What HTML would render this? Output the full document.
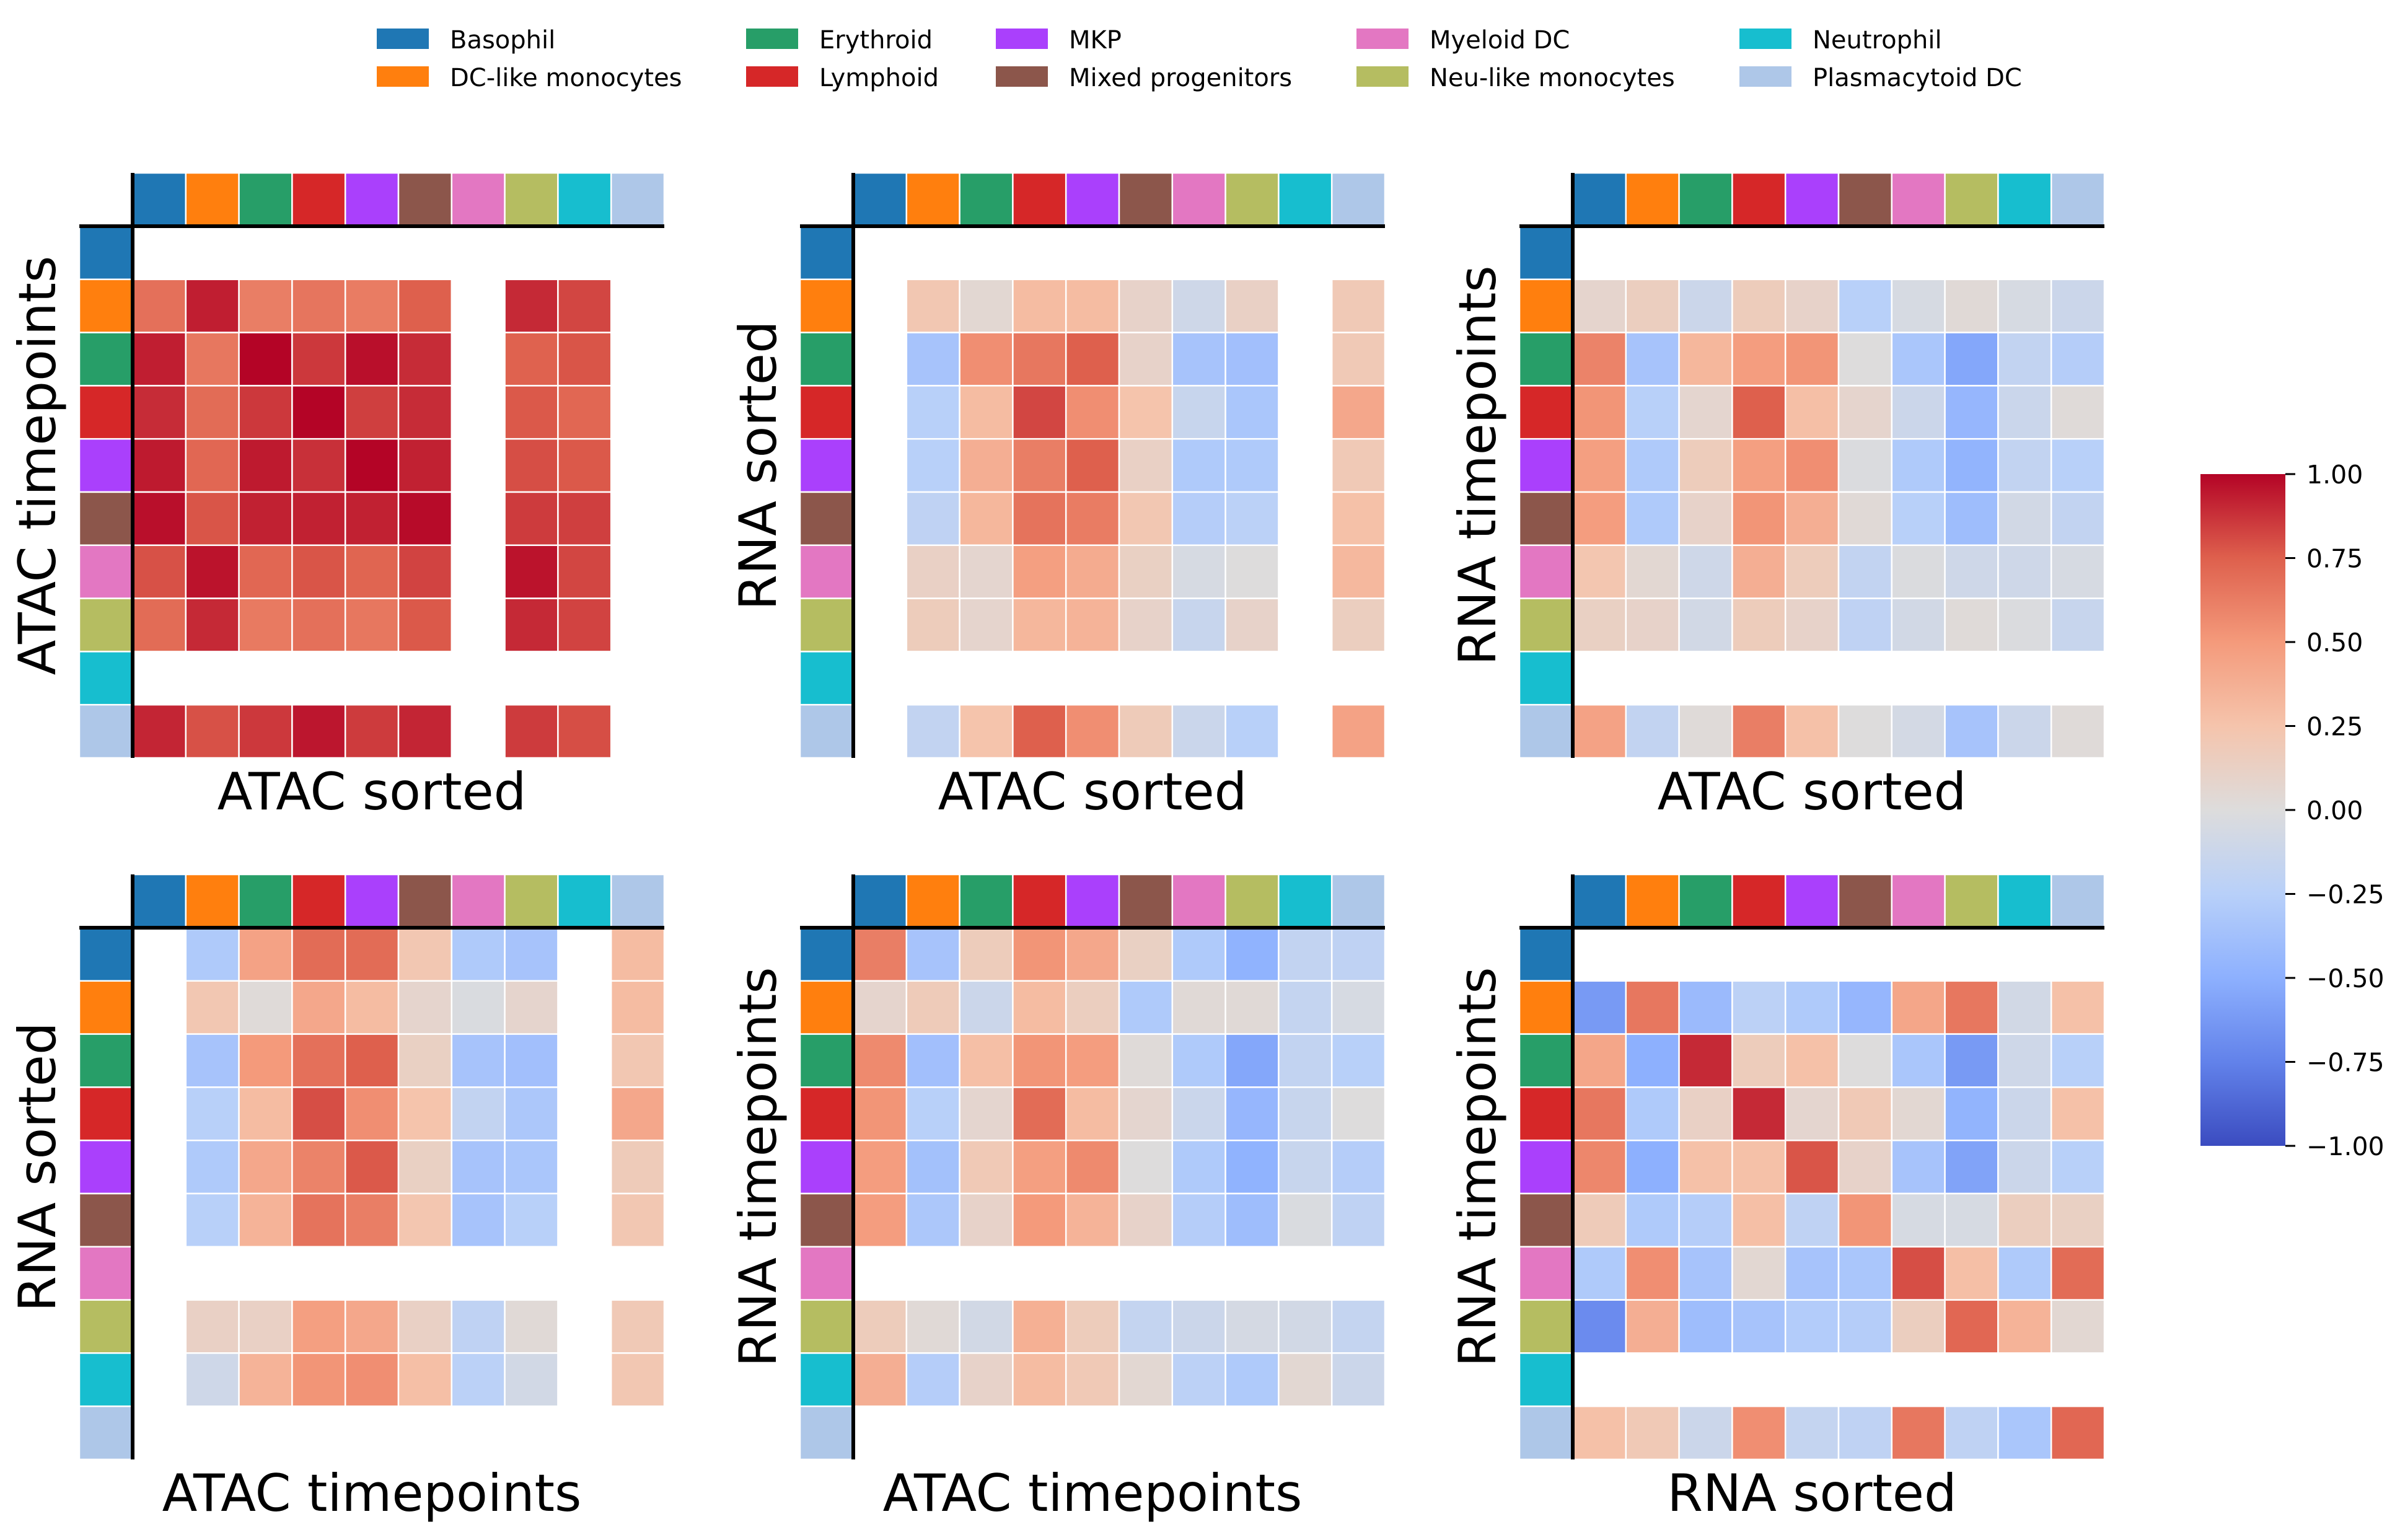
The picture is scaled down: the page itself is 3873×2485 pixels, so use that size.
<!DOCTYPE html>
<html><head><meta charset="utf-8">
<style>
html,body{margin:0;padding:0;background:#fff;}
svg{display:block;}
text{font-family:"DejaVu Sans","Liberation Sans",sans-serif;fill:#000;}
</style></head>
<body>
<svg id="fig" xmlns="http://www.w3.org/2000/svg" width="3873" height="2485" viewBox="0 0 3873 2485">
<defs>
<linearGradient id="cwgrad" x1="0" y1="1" x2="0" y2="0">
<stop offset="0" stop-color="rgb(59,76,192)"/>
<stop offset="0.125" stop-color="rgb(98,130,234)"/>
<stop offset="0.25" stop-color="rgb(141,176,254)"/>
<stop offset="0.375" stop-color="rgb(184,208,249)"/>
<stop offset="0.5" stop-color="rgb(221,220,220)"/>
<stop offset="0.625" stop-color="rgb(245,196,172)"/>
<stop offset="0.75" stop-color="rgb(244,154,123)"/>
<stop offset="0.875" stop-color="rgb(222,96,77)"/>
<stop offset="1" stop-color="rgb(180,4,38)"/>
</linearGradient>
</defs>
</svg>
<script>
const categories = ["Basophil","DC-like monocytes","Erythroid","Lymphoid","MKP","Mixed progenitors","Myeloid DC","Neu-like monocytes","Neutrophil","Plasmacytoid DC"];
const categoryColors = ["#1f77b4","#ff7f0e","#279e68","#d62728","#aa40fc","#8c564b","#e377c2","#b5bd61","#17becf","#aec7e8"];
const colorbarTicks = [1.0,0.75,0.5,0.25,0.0,-0.25,-0.5,-0.75,-1.0];
const colorbarTickLabels = ["1.00","0.75","0.50","0.25","0.00","\u22120.25","\u22120.50","\u22120.75","\u22121.00"];
const N = null;
const atacTimeVsAtacSorted = [
 [N,N,N,N,N,N,N,N,N,N],
 [0.68,0.93,0.62,0.66,0.63,0.75,N,0.9,0.82,N],
 [0.93,0.65,1.0,0.86,0.97,0.89,N,0.74,0.78,N],
 [0.89,0.7,0.86,1.0,0.84,0.89,N,0.77,0.72,N],
 [0.94,0.72,0.94,0.88,1.0,0.92,N,0.8,0.77,N],
 [0.97,0.78,0.92,0.92,0.92,0.98,N,0.85,0.84,N],
 [0.79,0.96,0.72,0.78,0.73,0.83,N,0.96,0.82,N],
 [0.7,0.9,0.64,0.68,0.65,0.77,N,0.9,0.83,N],
 [N,N,N,N,N,N,N,N,N,N],
 [0.91,0.79,0.86,0.95,0.85,0.91,N,0.85,0.8,N]
];
const rnaSortedVsAtacSorted = [
 [N,N,N,N,N,N,N,N,N,N],
 [N,0.22,0.05,0.3,0.3,0.1,-0.1,0.12,N,0.2],
 [N,-0.35,0.55,0.65,0.75,0.1,-0.35,-0.38,N,0.2],
 [N,-0.25,0.3,0.82,0.55,0.25,-0.15,-0.33,N,0.42],
 [N,-0.25,0.38,0.62,0.75,0.12,-0.3,-0.3,N,0.2],
 [N,-0.2,0.33,0.67,0.63,0.22,-0.27,-0.23,N,0.27],
 [N,0.12,0.07,0.47,0.4,0.13,-0.05,0.0,N,0.32],
 [N,0.17,0.08,0.33,0.35,0.1,-0.15,0.1,N,0.15],
 [N,N,N,N,N,N,N,N,N,N],
 [N,-0.18,0.25,0.75,0.55,0.18,-0.13,-0.25,N,0.45]
];
const rnaTimeVsAtacSorted = [
 [N,N,N,N,N,N,N,N,N,N],
 [0.08,0.15,-0.12,0.17,0.1,-0.25,-0.05,0.03,-0.05,-0.12],
 [0.6,-0.35,0.33,0.48,0.52,0.0,-0.33,-0.55,-0.18,-0.27],
 [0.52,-0.25,0.07,0.75,0.28,0.08,-0.12,-0.45,-0.13,0.02],
 [0.47,-0.3,0.17,0.47,0.55,-0.02,-0.3,-0.47,-0.18,-0.25],
 [0.48,-0.3,0.1,0.52,0.38,0.03,-0.25,-0.4,-0.08,-0.18],
 [0.23,0.05,-0.1,0.38,0.17,-0.18,-0.02,-0.1,-0.1,-0.05],
 [0.13,0.1,-0.08,0.17,0.1,-0.2,-0.08,0.02,-0.02,-0.15],
 [N,N,N,N,N,N,N,N,N,N],
 [0.45,-0.18,0.02,0.62,0.27,0.0,-0.07,-0.35,-0.12,0.02]
];
const rnaSortedVsAtacTime = [
 [N,-0.3,0.45,0.7,0.7,0.22,-0.3,-0.35,N,0.3],
 [N,0.22,0.02,0.42,0.3,0.08,-0.03,0.08,N,0.3],
 [N,-0.35,0.5,0.68,0.75,0.13,-0.35,-0.38,N,0.22],
 [N,-0.25,0.3,0.8,0.55,0.25,-0.18,-0.32,N,0.42],
 [N,-0.3,0.42,0.6,0.77,0.13,-0.35,-0.33,N,0.18],
 [N,-0.25,0.35,0.67,0.62,0.23,-0.35,-0.25,N,0.22],
 [N,N,N,N,N,N,N,N,N,N],
 [N,0.12,0.12,0.47,0.42,0.12,-0.2,0.03,N,0.2],
 [N,-0.1,0.35,0.52,0.55,0.28,-0.23,-0.08,N,0.22],
 [N,N,N,N,N,N,N,N,N,N]
];
const rnaTimeVsAtacTime = [
 [0.62,-0.35,0.17,0.52,0.42,0.13,-0.3,-0.48,-0.18,-0.2],
 [0.08,0.18,-0.12,0.3,0.15,-0.3,0.03,0.03,-0.17,-0.05],
 [0.57,-0.38,0.28,0.52,0.48,0.02,-0.3,-0.55,-0.18,-0.25],
 [0.52,-0.25,0.07,0.7,0.3,0.07,-0.13,-0.45,-0.15,0.0],
 [0.48,-0.37,0.2,0.47,0.57,0.0,-0.3,-0.48,-0.15,-0.27],
 [0.48,-0.32,0.1,0.5,0.35,0.1,-0.27,-0.4,-0.03,-0.2],
 [N,N,N,N,N,N,N,N,N,N],
 [0.17,0.03,-0.08,0.37,0.17,-0.17,-0.12,-0.06,-0.08,-0.17],
 [0.38,-0.27,0.1,0.3,0.2,0.05,-0.22,-0.3,0.05,-0.12],
 [N,N,N,N,N,N,N,N,N,N]
];
const rnaTimeVsRnaSorted = [
 [N,N,N,N,N,N,N,N,N,N],
 [-0.62,0.65,-0.42,-0.22,-0.3,-0.45,0.43,0.65,-0.08,0.27],
 [0.43,-0.5,0.9,0.17,0.27,0.0,-0.33,-0.62,-0.1,-0.25],
 [0.65,-0.3,0.12,0.9,0.07,0.2,0.05,-0.47,-0.12,0.27],
 [0.58,-0.5,0.27,0.27,0.78,0.1,-0.35,-0.57,-0.12,-0.25],
 [0.18,-0.3,-0.27,0.28,-0.2,0.52,-0.05,-0.05,0.15,0.13],
 [-0.3,0.55,-0.35,0.05,-0.35,-0.33,0.8,0.28,-0.3,0.7],
 [-0.7,0.38,-0.4,-0.35,-0.28,-0.27,0.15,0.72,0.35,0.05],
 [N,N,N,N,N,N,N,N,N,N],
 [0.27,0.2,-0.12,0.55,-0.17,-0.2,0.65,-0.2,-0.33,0.72]
];
const panelValues = [atacTimeVsAtacSorted,rnaSortedVsAtacSorted,rnaTimeVsAtacSorted,rnaSortedVsAtacTime,rnaTimeVsAtacTime,rnaTimeVsRnaSorted];
const panelYLabels = ["ATAC timepoints","RNA sorted","RNA timepoints","RNA sorted","RNA timepoints","RNA timepoints"];
const panelXLabels = ["ATAC sorted","ATAC sorted","ATAC sorted","ATAC timepoints","ATAC timepoints","RNA sorted"];

const NS = "http://www.w3.org/2000/svg";
const svg = document.getElementById("fig");
function mk(tag, attrs, parent){const e=document.createElementNS(NS,tag);for(const k in attrs)e.setAttribute(k,attrs[k]);(parent||svg).appendChild(e);return e;}

const cwStops=[[0,[59,76,192]],[0.125,[98,130,234]],[0.25,[141,176,254]],[0.375,[184,208,249]],[0.5,[221,220,220]],[0.625,[245,196,172]],[0.75,[244,154,123]],[0.875,[222,96,77]],[1,[180,4,38]]];
function coolwarm(v){
  let t=(v+1)/2; t=Math.max(0,Math.min(1,t));
  for(let i=1;i<cwStops.length;i++){
    if(t<=cwStops[i][0]){const a=cwStops[i-1],b=cwStops[i];const f=(t-a[0])/(b[0]-a[0]);
      const c=a[1].map((x,j)=>Math.round(x+(b[1][j]-x)*f));return `rgb(${c[0]},${c[1]},${c[2]})`;}
  }
  return "rgb(180,4,38)";
}

const colLeft=[214,1377,2538], rowTop=[365,1497], SIZE=858, BAR=86;
const cell=SIZE/10;
function xScale(px,j){return colLeft[px]+j*cell;}
function yScale(py,i){return rowTop[py]+i*cell;}

panelValues.forEach((vals,p)=>{
  const px=p%3, py=Math.floor(p/3);
  const g=mk("g",{});
  
  
  const L=colLeft[px], T=rowTop[py];
  categories.forEach((c,j)=>{
    const r=mk("rect",{x:xScale(px,j),y:T-BAR,width:cell,height:BAR,fill:categoryColors[j],stroke:"#fff","stroke-width":2.5},g);
    
    
  });
  categories.forEach((c,i)=>{
    const r=mk("rect",{x:L-BAR,y:yScale(py,i),width:BAR,height:cell,fill:categoryColors[i],stroke:"#fff","stroke-width":2.5},g);
    
    
  });
  vals.forEach((row,i)=>row.forEach((v,j)=>{
    if(v===null)return;
    const r=mk("rect",{x:xScale(px,j),y:yScale(py,i),width:cell,height:cell,fill:coolwarm(v),stroke:"#fff","stroke-width":2.5},g);
    
    
  }));
  const vline=mk("line",{x1:L,y1:T-BAR,x2:L,y2:T+SIZE,stroke:"#000","stroke-width":6},g);
  
  
  const hline=mk("line",{x1:L-BAR,y1:T,x2:L+SIZE,y2:T,stroke:"#000","stroke-width":6},g);
  
  
  const xl=mk("text",{x:(L-BAR+L+SIZE)/2,y:T+SIZE+83,"font-size":83,"text-anchor":"middle"},g);
  xl.textContent=panelXLabels[p];
  
  
  const cx=L-125, cy=(T-BAR+T+SIZE)/2;
  const yl=mk("text",{x:cx,y:cy,"font-size":83,"text-anchor":"middle",transform:`rotate(-90 ${cx} ${cy})`},g);
  yl.textContent=panelYLabels[p];
  
  
});

const cbX=3551, cbTop=765, cbBot=1849, cbW=137;
function cbScale(v){return cbBot-(v+1)/2*(cbBot-cbTop);}
const cb=mk("rect",{x:cbX,y:cbTop,width:cbW,height:cbBot-cbTop,fill:"url(#cwgrad)"});


colorbarTicks.forEach((v,k)=>{
  const y=cbScale(v);
  const t=mk("line",{x1:cbX+cbW,y1:y,x2:cbX+cbW+16,y2:y,stroke:"#000","stroke-width":3});
  
  
  const tx=mk("text",{x:3722,y:y+15,"font-size":41});
  tx.textContent=colorbarTickLabels[k];
  
  
});

const legendColX=[608,1204,1607,2189,2807];
categories.forEach((c,k)=>{
  const col=Math.floor(k/2), row=k%2;
  const x=legendColX[col], y=46+row*61;
  const g=mk("g",{});
  
  
  mk("rect",{x:x,y:y,width:84,height:33,fill:categoryColors[k]},g);
  const t=mk("text",{x:x+118,y:y+32,"font-size":40},g);
  t.textContent=c;
});
</script>
</body></html>
